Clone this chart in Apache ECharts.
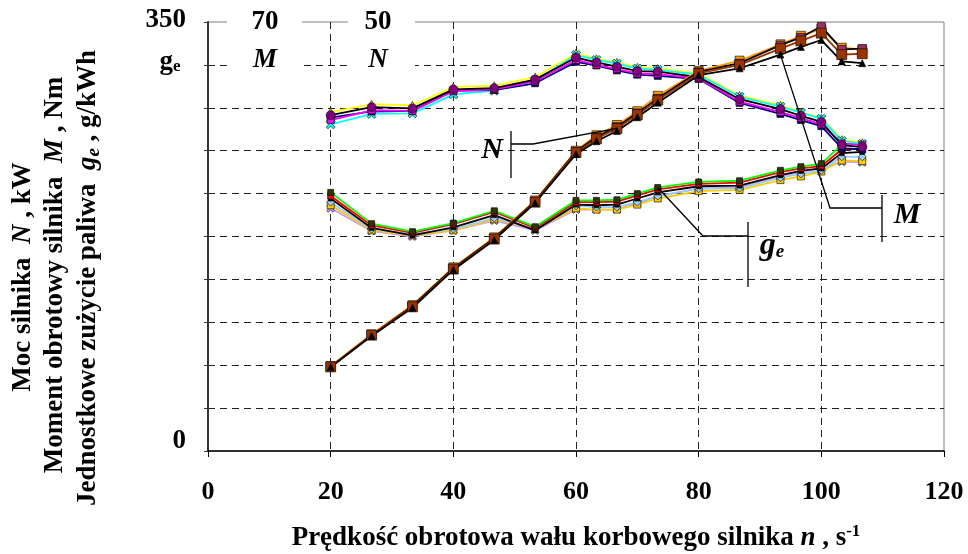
<!DOCTYPE html>
<html>
<head>
<meta charset="utf-8">
<script src="https://cdn.jsdelivr.net/npm/echarts@6.0.0/dist/echarts.min.js"></script>
<style>
html, body { margin: 0; padding: 0; background: #fff; }
#chart { width: 968px; height: 554px; }
</style>
</head>
<body>
<div id="chart"></div>
<script>
// predkosc obrotowa n, s^-1
var speed = [20, 26.67, 33.33, 40, 46.67, 53.33, 60, 63.33, 66.67, 70, 73.33, 80, 86.67, 93.33, 96.67, 100, 103.33, 106.67];

// moment obrotowy M, Nm
var momentA = [54.8, 56.1, 55.9, 59.0, 59.2, 60.6, 64.2, 63.4, 62.7, 62.0, 61.9, 61.0, 57.4, 55.8, 54.7, 53.7, 49.9, 49.6];
var momentB = [54.0, 55.6, 55.5, 58.7, 59.0, 60.3, 63.8, 63.0, 62.3, 61.6, 61.5, 60.8, 57.0, 55.3, 54.3, 53.3, 50.2, 49.9];
var momentC = [53.3, 55.0, 55.1, 58.2, 58.8, 60.5, 64.6, 63.8, 63.2, 62.4, 62.2, 61.4, 57.8, 56.2, 55.2, 54.2, 50.6, 50.1];
var momentD = [55.3, 56.6, 56.4, 59.4, 59.6, 61.0, 64.9, 64.0, 63.4, 62.6, 62.4, 61.6, 58.0, 56.4, 55.3, 54.3, 50.8, 50.3];
var momentE = [54.4, 55.4, 55.5, 58.8, 58.9, 60.0, 63.5, 62.9, 62.1, 61.4, 61.2, 60.7, 56.8, 55.0, 54.0, 53.0, 49.4, 49.2];

// moc N, kW
var powerA = [9.8, 13.5, 16.8, 21.2, 24.7, 29.0, 34.8, 36.4, 37.6, 39.2, 40.9, 44.0, 45.0, 46.9, 47.8, 48.7, 46.2, 46.3];
var powerB = [9.8, 13.4, 16.7, 21.1, 24.6, 28.9, 34.6, 36.1, 37.3, 38.9, 40.6, 43.8, 44.6, 46.2, 47.1, 47.9, 45.4, 45.2];
var powerC = [9.9, 13.6, 17.0, 21.4, 24.9, 29.2, 35.0, 36.8, 38.0, 39.6, 41.4, 44.3, 45.5, 47.4, 48.4, 49.2, 47.0, 46.8];
var powerD = [9.8, 13.5, 16.9, 21.3, 24.8, 29.1, 34.9, 36.6, 37.8, 39.4, 41.1, 44.2, 45.2, 47.3, 48.2, 49.5, 46.8, 46.9];

// jednostkowe zuzycie paliwa ge, g/kWh
var fuelA = [211, 185.5, 179, 186, 196, 183, 204.5, 204.5, 205, 210, 215, 219.5, 220.5, 229, 232, 234.5, 250, 250.5];
var fuelB = [208, 184, 178, 185, 195, 182, 203, 203, 203.5, 208.5, 213.5, 218, 219, 227.5, 230.5, 232.5, 246, 246.5];
var fuelC = [206, 182, 176, 182.5, 192.5, 180, 201, 200.5, 201, 206, 211, 216, 216.5, 225, 228.5, 230.5, 243, 244];
var fuelD = [203, 181, 177, 181, 190, 181, 200, 199, 199, 203, 208, 214, 214.5, 223, 226, 229, 240, 240];
var fuelE = [200.5, 180, 176, 180, 189, 181, 198, 197, 197, 201, 206, 212, 213, 221, 224, 228, 237, 236.5];
var fuelF = [198, 179.5, 175, 180, 188, 180, 197, 197, 197, 202, 208, 214, 215, 224, 228, 231, 236, 235.5];

var FONT = '"Liberation Serif", "Times New Roman", serif';
var CROSS = 'path://M0,2L2,0L5,3L8,0L10,2L7,5L10,8L8,10L5,7L2,10L0,8L3,5Z';

function serie(data, yIdx, mark, line, symbol, size) {
	return {
		type: 'line',
		yAxisIndex: yIdx,
		data: speed.map(function (x, i) { return [x, data[i]]; }),
		symbol: symbol,
		symbolSize: size,
		showAllSymbol: true,
		itemStyle: { color: mark, borderColor: '#000', borderWidth: 0.6 },
		lineStyle: { color: line, width: 1.8 },
		emphasis: { disabled: true },
		animation: false
	};
}

var series = [
	// ge
	serie(fuelF, 0, '#CC99FF', '#CC99FF', CROSS, 8),
	serie(fuelE, 0, '#FFCC00', '#FFCC00', 'rect', 7),
	serie(fuelD, 0, '#99CCFF', '#99CCFF', 'diamond', 8),
	serie(fuelC, 0, '#000000', '#000000', 'rect', 5),
	serie(fuelB, 0, '#FF0000', '#FF0000', 'rect', 6),
	serie(fuelA, 0, '#333300', '#00FF00', 'rect', 6),
	// M
	serie(momentD, 1, '#FFFF00', '#FFFF00', 'triangle', 8),
	serie(momentC, 1, '#00FFFF', '#00FFFF', CROSS, 9),
	serie(momentE, 1, '#000080', '#000080', 'rect', 7),
	serie(momentB, 1, '#FF00FF', '#FF00FF', 'rect', 7),
	serie(momentA, 1, '#800080', '#000000', 'circle', 9),
	// N
	serie(powerC, 2, '#FF9900', '#FF9900', 'rect', 9),
	serie(powerD, 2, '#993366', '#000000', 'rect', 8),
	serie(powerA, 2, '#993300', '#993300', 'rect', 10),
	serie(powerB, 2, '#000000', '#000000', 'triangle', 7)
];

var chart = echarts.init(document.getElementById('chart'));
chart.setOption({
	backgroundColor: '#fff',
	animation: false,
	grid: { left: 208, right: 24, top: 22, bottom: 103, show: true, borderColor: '#808080', borderWidth: 1, outerBoundsMode: 'none' },
	xAxis: {
		type: 'value', min: 0, max: 120, interval: 20,
		axisLine: { lineStyle: { color: '#000', width: 1.5 } },
		axisTick: { inside: false, length: 6, lineStyle: { color: '#000' } },
		axisLabel: { margin: 28, color: '#000', fontFamily: FONT, fontWeight: 'bold', fontSize: 26 },
		splitLine: { show: true, showMinLine: false, showMaxLine: false, lineStyle: { color: '#222', type: [7, 5], width: 1 } },
		name: '{b|Prędkość obrotowa wału korbowego silnika }{i|n}{b| , s}{s|-1}',
		nameLocation: 'middle',
		nameGap: 72,
		nameTextStyle: {
			rich: {
				b: { fontFamily: FONT, fontWeight: 'bold', fontSize: 27, color: '#000' },
				i: { fontFamily: FONT, fontWeight: 'bold', fontStyle: 'italic', fontSize: 27, color: '#000' },
				s: { fontFamily: FONT, fontWeight: 'bold', fontSize: 17, color: '#000', padding: [0, 0, 14, 0] }
			}
		}
	},
	yAxis: [{
		type: 'value', min: 0, max: 350, interval: 35,
		axisLine: { show: true, lineStyle: { color: '#333', width: 2 } },
		axisTick: { show: true, inside: false, length: 4, lineStyle: { color: '#333' } },
		axisLabel: {
			margin: 22, color: '#000',
			formatter: function (v) {
				if (v === 350) return '{t|350}';
				if (v === 0) return '{z|0}';
				return '';
			},
			rich: {
				t: { fontFamily: FONT, fontWeight: 'bold', fontSize: 27, color: '#000', padding: [0, 0, 4, 0] },
				z: { fontFamily: FONT, fontWeight: 'bold', fontSize: 27, color: '#000', padding: [0, 0, 20, 0] }
			}
		},
		splitLine: { show: true, showMinLine: false, showMaxLine: false, lineStyle: { color: '#222', type: [7, 5], width: 1 } }
	}, {
		type: 'value', min: 0, max: 70, interval: 7, show: false, splitLine: { show: false }
	}, {
		type: 'value', min: 0, max: 50, interval: 5, show: false, splitLine: { show: false }
	}],
	series: series
});

// opisy i linie odniesienia
function txt(x, y, text, rich, extra) {
	var o = { type: 'text', x: x, y: y, z: 100, style: { text: text, rich: rich, align: 'center', verticalAlign: 'middle' } };
	if (extra) o.rotation = extra;
	return o;
}
function rb(size, italic) {
	return { fontFamily: FONT, fontWeight: 'bold', fontStyle: italic ? 'italic' : 'normal', fontSize: size, color: '#000' };
}
function poly(points) {
	return { type: 'polyline', z: 100, shape: { points: points }, style: { stroke: '#000', lineWidth: 1.3, fill: null } };
}

var pN = chart.convertToPixel({ xAxisIndex: 0, yAxisIndex: 2 }, [speed[8], powerA[8]]);
var pM = chart.convertToPixel({ xAxisIndex: 0, yAxisIndex: 2 }, [speed[13], powerB[13]]);
var pG = chart.convertToPixel({ xAxisIndex: 0, yAxisIndex: 0 }, [speed[10], fuelA[10]]);

var sub = { fontFamily: FONT, fontWeight: 'bold', fontSize: 17, color: '#000', padding: [10, 0, 0, 0] };
var subI = { fontFamily: FONT, fontWeight: 'bold', fontStyle: 'italic', fontSize: 19, color: '#000', padding: [12, 0, 0, 0] };

chart.setOption({
	graphic: [
		{ type: 'rect', z: 90, shape: { x: 227, y: 6, width: 75, height: 70 }, style: { fill: '#fff' } },
		{ type: 'rect', z: 90, shape: { x: 348, y: 6, width: 67, height: 70 }, style: { fill: '#fff' } },
		txt(265, 22, '{b|70}', { b: rb(27) }),
		txt(265, 60, '{i|M}', { i: rb(27, true) }),
		txt(378, 22, '{b|50}', { b: rb(27) }),
		txt(378, 60, '{i|N}', { i: rb(27, true) }),
		txt(170, 62, '{b|g}{s|e}', { b: rb(27), s: sub }),
		// tytul osi Y
		txt(23, 277, '{b|Moc silnika  }{i|N}{b| , kW}', { b: rb(27), i: rb(27, true) }, Math.PI / 2),
		txt(55, 275, '{b|Moment obrotowy silnika  }{i|M}{b| , Nm}', { b: rb(27), i: rb(27, true) }, Math.PI / 2),
		txt(88, 278, '{b|Jednostkowe zużycie paliwa  }{i|g}{s|e}{b| , g/kWh}', { b: rb(27), i: rb(27, true), s: subI }, Math.PI / 2),
		// N
		txt(492, 150, '{i|N}', { i: rb(30, true) }),
		poly([[511, 131], [511, 178]]),
		poly([[511, 144], [533, 144], pN]),
		// M
		txt(907, 215, '{i|M}', { i: rb(30, true) }),
		poly([[882, 195], [882, 242]]),
		poly([[882, 208], [830, 208], pM]),
		// ge
		txt(772, 246, '{i|g}{s|e}', { i: rb(32, true), s: subI }),
		poly([[748, 222], [748, 287]]),
		poly([[748, 236], [703, 236], pG])
	]
});
</script>
</body>
</html>
